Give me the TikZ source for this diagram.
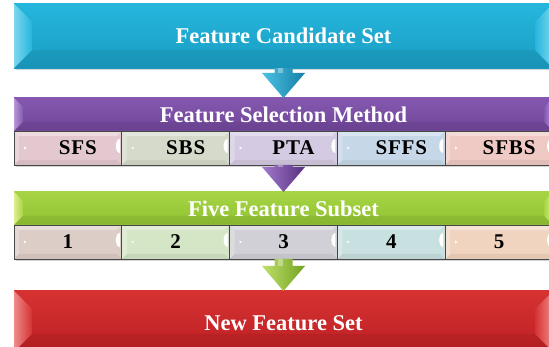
\documentclass[tikz,border=0pt]{standalone}
\usepackage{fontspec}
\setmainfont{Liberation Serif}
\newfontfamily\subfont[LetterSpace=4]{Liberation Serif}
\usetikzlibrary{calc}
\definecolor{cyanT}{HTML}{25B6DD}
\definecolor{cyanB}{HTML}{1A9DC3}
\definecolor{cyanL}{HTML}{7ED6EE}
\definecolor{cyanAL}{HTML}{4CC2E4}
\definecolor{cyanD}{HTML}{157FA5}
\definecolor{purT}{HTML}{8358AE}
\definecolor{purB}{HTML}{70469A}
\definecolor{purL}{HTML}{B996DA}
\definecolor{purAL}{HTML}{A27BCD}
\definecolor{purD}{HTML}{562F80}
\definecolor{grnT}{HTML}{A6D444}
\definecolor{grnB}{HTML}{90C232}
\definecolor{grnL}{HTML}{DDEF8E}
\definecolor{grnAL}{HTML}{BEE06A}
\definecolor{grnD}{HTML}{73A323}
\definecolor{redT}{HTML}{D63232}
\definecolor{redB}{HTML}{BD2024}
\definecolor{redL}{HTML}{EE8A8A}
\definecolor{sA}{HTML}{E4C8CF}
\definecolor{sB}{HTML}{D5DACA}
\definecolor{sC}{HTML}{D4CAE2}
\definecolor{sD}{HTML}{C6D8E8}
\definecolor{sE}{HTML}{EFC9C3}
\definecolor{nA}{HTML}{DCCDC6}
\definecolor{nB}{HTML}{D4E6C6}
\definecolor{nC}{HTML}{D0D0D6}
\definecolor{nD}{HTML}{C9E0E1}
\definecolor{nE}{HTML}{F1D4BF}
\tikzset{
  bigbox/.style={minimum width=539pt, inner sep=0pt, outer sep=0pt, text=white,
    font=\fontsize{22.5}{24}\selectfont\bfseries},
  subbox/.style={minimum width=107.8pt, minimum height=34pt, inner sep=0pt, outer sep=0pt,
    text=black, font=\subfont\fontsize{21}{24}\selectfont\bfseries},
  subedge/.style={draw=black!72, line width=0.8pt},
  boxshadow/.style={fill=black!30, opacity=0.55},
}
% bevel on a big box: node, depth, light colour, base colour
\newcommand\bigbevel[4]{%
  \shade[left color=#3, right color=#4] (#1.north west) -- ($(#1.north west)+(#2,#2)$)
     -- ($(#1.south west)+(#2,-#2)$) -- (#1.south west) -- cycle;
  \shade[right color=#3, left color=#4] (#1.north east) -- ($(#1.north east)+(-#2,#2)$)
     -- ($(#1.south east)+(-#2,-#2)$) -- (#1.south east) -- cycle;
  \fill[black, opacity=0.06] (#1.south west) -- ($(#1.south west)+(#2,-#2)$)
     -- ($(#1.south east)+(-#2,-#2)$) -- (#1.south east) -- cycle;
}
% a cell of a sub row: name, x, y, colour, label
\newcommand\subcell[5]{%
  \node[subbox, fill=#4] (#1) at (#2,#3) {};
  \fill[white, opacity=0.35] (#1.north west) -- ($(#1.north west)+(5,5)$)
     -- ($(#1.north east)+(-5,5)$) -- (#1.north east) -- cycle;
  \fill[black, opacity=0.06] (#1.south west) -- ($(#1.south west)+(5,-5)$)
     -- ($(#1.south east)+(-5,-5)$) -- (#1.south east) -- cycle;
  \fill[white, opacity=0.25] (#1.north west) -- ($(#1.north west)+(5,5)$)
     -- ($(#1.south west)+(5,-5)$) -- (#1.south west) -- cycle;
  \fill[white, opacity=0.9] ($(#1.west)+(10,-1.5)$) -- ++(2.5,1.5) -- ++(-2.5,1.5) -- cycle;
  \fill[white] ($(#1.east)+(-2,5)$) arc[start angle=90, end angle=270, x radius=4, y radius=7];
  \draw[subedge] (#1.north west) rectangle (#1.south east);
  \node[subbox] at (#1.center) {#5};
}
% block arrow from one node to the next
\newcommand\blockarrow[4]{%
  \shade[left color=#3, right color=#4]
    ($(#1.south)+(-9,0)$) -- ($(#2.north)+(-9,-25)$) -- ($(#2.north)+(-21.5,-25)$)
    -- (#2.north) -- ($(#2.north)+(21.5,-25)$) -- ($(#2.north)+(9,-25)$)
    -- ($(#1.south)+(9,0)$) -- cycle;
  \fill[white, opacity=0.35] ($(#1.south)+(-6,0)$) -- ($(#2.north)+(-6,-25)$)
    -- ($(#2.north)+(-1,-25)$) -- ($(#1.south)+(-1,0)$) -- cycle;
}
\begin{document}
\begin{tikzpicture}[x=1pt, y=-1pt]
\useasboundingbox (0,0) rectangle (549,347);
\clip (0,0) rectangle (549,347);
\fill[white] (0,0) rectangle (549,347);

% shadows
\fill[boxshadow] (15.5,6) rectangle (556,70.5);
\fill[boxshadow] (15.5,100) rectangle (556,167);
\fill[boxshadow] (15.5,194) rectangle (556,261);
\fill[boxshadow] (15.5,293) rectangle (556,352);

% top box
\node[bigbox, minimum height=64.5pt, top color=cyanT, bottom color=cyanB] (fcs) at (283.5,35.8) {};
\bigbevel{fcs}{18}{cyanL}{cyanT}
\node[bigbox] at (fcs.center) {Feature Candidate Set};

% purple header and methods
\node[bigbox, minimum height=33pt, top color=purT, bottom color=purB] (fsm) at (283.5,114.5) {};
\bigbevel{fsm}{9}{purL}{purT}
\node[bigbox] at (fsm.center) {Feature Selection Method};
\subcell{m1}{67.9}{148}{sA}{\hspace{20pt}SFS}
\subcell{m2}{175.7}{148}{sB}{\hspace{20pt}SBS}
\subcell{m3}{283.5}{148}{sC}{\hspace{20pt}PTA}
\subcell{m4}{391.3}{148}{sD}{\hspace{20pt}SFFS}
\subcell{m5}{499.1}{148}{sE}{\hspace{20pt}SFBS}

% green header and subsets
\node[bigbox, minimum height=33pt, top color=grnT, bottom color=grnB] (ffs) at (283.5,208.5) {};
\bigbevel{ffs}{9}{grnL}{grnT}
\node[bigbox] at (ffs.center) {Five Feature Subset};
\subcell{s1}{67.9}{242}{nA}{1}
\subcell{s2}{175.7}{242}{nB}{2}
\subcell{s3}{283.5}{242}{nC}{3}
\subcell{s4}{391.3}{242}{nD}{4}
\subcell{s5}{499.1}{242}{nE}{5}

% red box
\node[bigbox, minimum height=61pt, top color=redT, bottom color=redB] (nfs) at (283.5,321.5) {};
\bigbevel{nfs}{18}{redL}{redT}
\node[bigbox] at ($(nfs.center)+(0,1.5)$) {New Feature Set};

% arrows
\blockarrow{fcs}{fsm}{cyanAL}{cyanD}
\blockarrow{m3}{ffs}{purAL}{purD}
\blockarrow{s3}{nfs}{grnAL}{grnD}
\end{tikzpicture}
\end{document}
